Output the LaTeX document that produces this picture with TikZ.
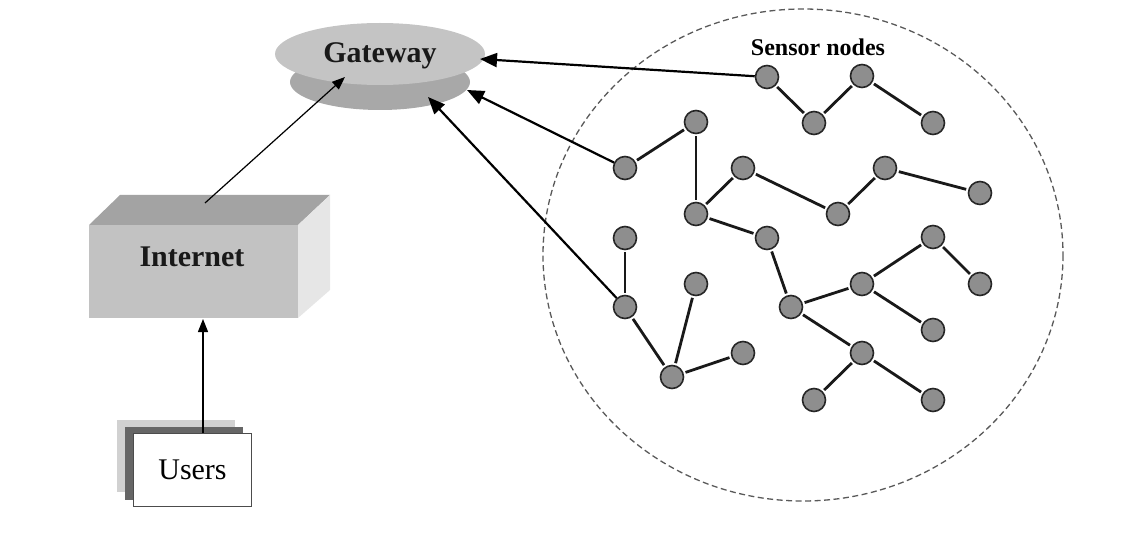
\documentclass[tikz,border=0pt]{standalone}
\usepackage{fontspec}
\setmainfont{Liberation Serif}
\usetikzlibrary{arrows.meta,shapes.geometric}
\definecolor{sgray}{HTML}{8E8E8E}
\definecolor{boxfront}{HTML}{C2C2C2}
\definecolor{boxtop}{HTML}{A3A3A3}
\definecolor{boxside}{HTML}{E6E6E6}
\definecolor{gwtop}{HTML}{C4C4C4}
\definecolor{gwband}{HTML}{A8A8A8}
\tikzset{
  sn/.style={circle,draw=black!85,line width=1.6pt,fill=sgray,minimum size=23pt,inner sep=0pt},
  link/.style={line width=2.8pt,black!90,shorten <=2pt,shorten >=2pt},
  uplink/.style={line width=2.2pt,-{Triangle[length=17pt,width=14pt]}},
  thinarrow/.style={line width=1.2pt,-{Triangle[length=13pt,width=10pt]}},
  lbl/.style={font=\fontsize{30}{32}\selectfont\bfseries,text=black!90},
}
\begin{document}
\begin{tikzpicture}[x=1pt,y=-1pt]
\useasboundingbox (0,0) rectangle (1141,540);
% sensor field
\draw[line width=1.3pt,black!65,dash pattern=on 6pt off 3.5pt] (803,255) ellipse [x radius=260,y radius=246];
\node[font=\fontsize{24}{26}\selectfont\bfseries] (lab) at (818,47) {Sensor nodes};
% gateway
\fill[gwband] (380,82) ellipse [x radius=90,y radius=28];
\fill[gwtop] (380,54) ellipse [x radius=105,y radius=31];
\node[lbl] (gw) at (380,56) {Gateway};
\coordinate (gwA) at (480,59);
\coordinate (gwB) at (467,90);
\coordinate (gwC) at (428,97);
\coordinate (gwD) at (345,77);
% internet box
\fill[boxtop] (89,225) -- (120,195) -- (330,195) -- (298,225) -- cycle;
\fill[boxside] (298,225) -- (330,195) -- (330,290) -- (298,318) -- cycle;
\fill[boxfront] (89,225) rectangle (298,318);
\node[lbl] (inet) at (192,257) {Internet};
\coordinate (inetTop) at (205,203);
\coordinate (inetBot) at (203,319);
% users
\fill[black!18] (117,420) rectangle (235,492);
\fill[black!60] (125,427) rectangle (243,500);
\node[draw=black!70,line width=1pt,fill=white,minimum width=118pt,minimum height=73pt,inner sep=0pt,
      font=\fontsize{30}{32}\selectfont] (users) at (192.5,469.5) {Users};
\coordinate (usersTop) at (203,433);
% arrows left side
\draw[thinarrow] (usersTop) -- (inetBot);
\draw[thinarrow] (inetTop) -- (gwD);
% sensor nodes
\node[sn] (a) at (767,77) {};
\node[sn] (b) at (814,123) {};
\node[sn] (c) at (862,76) {};
\node[sn] (d) at (933,123) {};
\node[sn] (e) at (696,122) {};
\node[sn] (f) at (625,168) {};
\node[sn] (g) at (696,214) {};
\node[sn] (h) at (743,168) {};
\node[sn] (i) at (838,214) {};
\node[sn] (j) at (885,168) {};
\node[sn] (k) at (980,193) {};
\node[sn] (l) at (767,238) {};
\node[sn] (m) at (791,307) {};
\node[sn] (n) at (862,284) {};
\node[sn] (o) at (933,237) {};
\node[sn] (p) at (980,284) {};
\node[sn] (q) at (933,330) {};
\node[sn] (r) at (862,353) {};
\node[sn] (s) at (814,400) {};
\node[sn] (t) at (933,400) {};
\node[sn] (u) at (625,238) {};
\node[sn] (v) at (625,307) {};
\node[sn] (w) at (672,377) {};
\node[sn] (x) at (696,284) {};
\node[sn] (y) at (743,353) {};
% links
\draw[link] (a) -- (b);
\draw[link] (b) -- (c);
\draw[link] (c) -- (d);
\draw[link] (e) -- (f);
\draw[link] (e) -- (g);
\draw[link] (g) -- (h);
\draw[link] (h) -- (i);
\draw[link] (i) -- (j);
\draw[link] (j) -- (k);
\draw[link] (g) -- (l);
\draw[link] (l) -- (m);
\draw[link] (m) -- (n);
\draw[link] (n) -- (o);
\draw[link] (o) -- (p);
\draw[link] (n) -- (q);
\draw[link] (m) -- (r);
\draw[link] (r) -- (s);
\draw[link] (r) -- (t);
\draw[link] (u) -- (v);
\draw[link] (v) -- (w);
\draw[link] (w) -- (x);
\draw[link] (w) -- (y);
% uplinks to gateway
\draw[uplink] (a) -- (gwA);
\draw[uplink] (f) -- (gwB);
\draw[uplink] (v) -- (gwC);
\end{tikzpicture}
\end{document}
